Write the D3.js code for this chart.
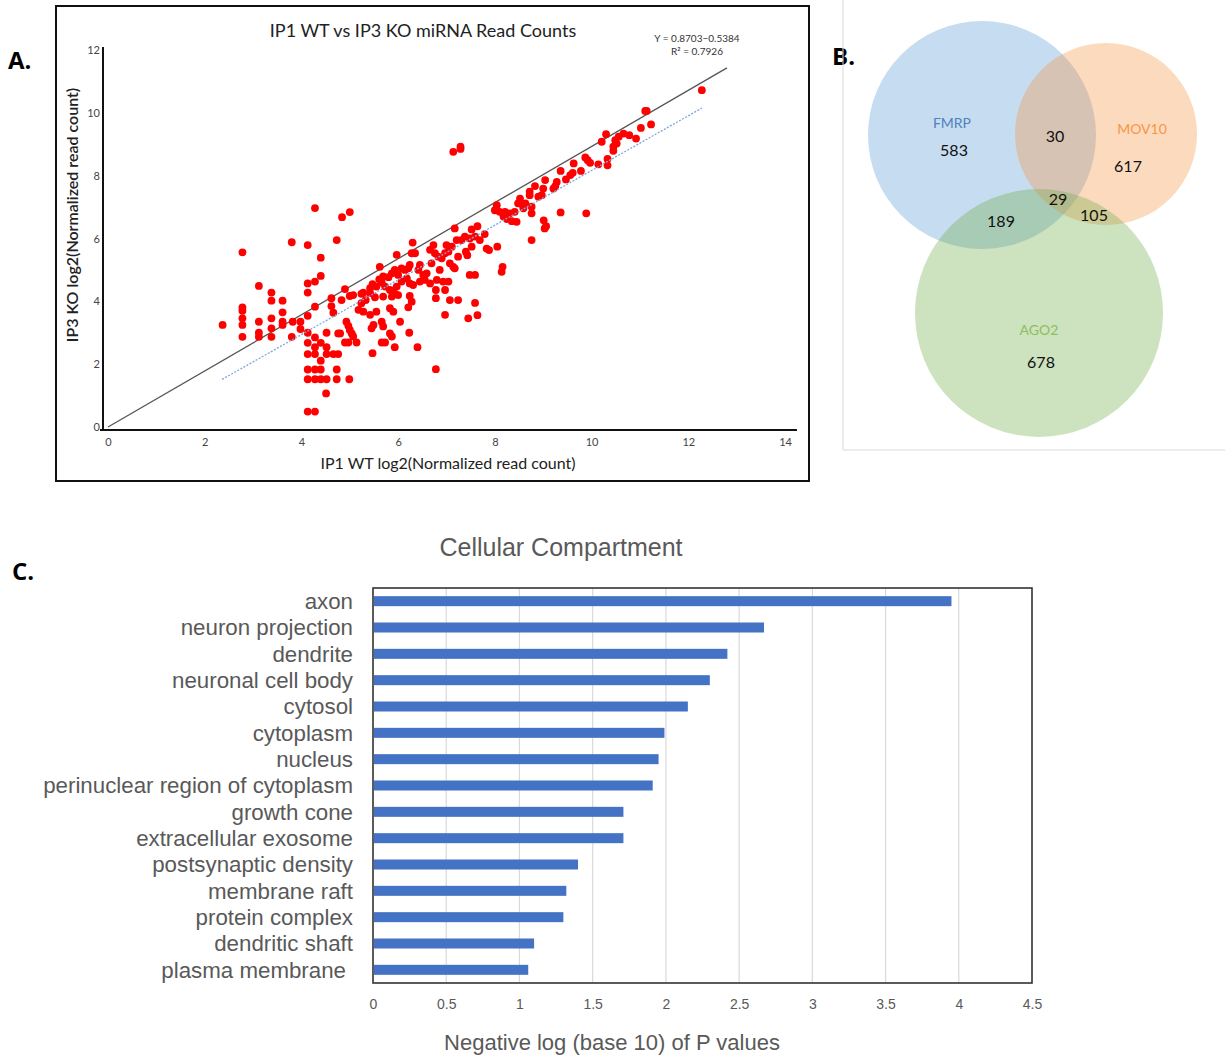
<!DOCTYPE html>
<html>
<head>
<meta charset="utf-8">
<script src="https://cdn.jsdelivr.net/npm/d3@7"></script>
<style>
  body { margin: 0; background: #fff; }
  text { font-family: "Lato", "Open Sans", sans-serif; }
</style>
</head>
<body>
<svg id="fig" width="1225" height="1057"></svg>
<script>
// ---- panel A: miRNA read counts (log2) ----
var ip1WT = [
  2.37,2.78,2.78,2.78,2.78,2.78,2.78,3.12,3.12,3.12,3.12,3.38,3.38,3.38,3.38,3.38,
  3.61,3.61,3.61,3.61,3.80,3.82,3.80,3.98,3.98,4.13,4.13,4.13,4.13,4.13,4.13,4.13,4.13,4.13,4.13,
  4.28,4.28,4.40,4.40,4.28,4.28,4.28,4.28,4.40,4.40,4.28,4.40,4.28,4.40,4.52,
  4.52,4.52,4.52,4.66,4.76,4.51,4.62,4.62,4.66,4.73,4.73,4.73,4.76,4.28,4.84,5.00,
  4.90,4.83,5.00,5.07,5.24,5.28,5.42,5.47,5.61,5.62,5.69,5.80,5.87,5.93,5.97,6.00,
  6.07,6.14,6.21,6.24,6.28,6.30,6.35,6.42,6.45,6.52,6.59,6.66,6.69,6.73,6.76,6.83,
  6.90,6.97,7.00,7.04,7.11,7.17,7.21,7.24,7.14,6.86,6.80,6.93,6.66,6.55,6.45,6.31,
  6.24,6.18,6.07,5.97,5.90,5.83,5.73,5.66,5.55,5.42,5.33,5.24,5.18,5.28,5.42,5.55,
  5.52,5.69,5.87,5.93,6.00,6.24,6.28,6.21,5.83,5.90,6.04,5.66,5.49,5.45,5.69,4.93,
  4.97,5.00,5.04,5.07,4.80,4.90,4.97,5.14,5.66,5.73,5.83,5.87,6.23,5.93,6.40,5.47,
  4.99,6.78,6.97,7.07,6.97,6.78,6.78,7.24,7.17,7.07,7.04,
  7.14,7.29,7.29,8.04,8.00,8.10,8.21,8.31,8.41,8.48,8.45,8.25,8.35,8.18,
  7.52,7.64,7.79,7.59,7.48,7.38,7.31,7.69,7.52,7.40,7.43,7.83,7.88,8.05,7.48,7.59,8.16,8.14,7.59,7.64,7.45,
  12.28,11.11,11.14,11.23,11.02,10.92,10.78,10.66,10.56,10.49,10.52,10.45,10.45,10.30,10.21,10.33,
  10.33,10.14,9.97,9.92,9.87,9.63,9.78,9.56,9.61,9.47,9.36,9.28,9.25,9.21,9.04,9.00,
  8.90,8.97,8.83,8.72,8.72,8.63,8.59,8.56,8.76,8.76,8.52,9.01,9.06,9.03,9.36,9.89,8.76
];
var ip3KO = [
  3.25,5.56,3.81,3.70,3.46,3.25,2.87,4.49,3.35,3.00,2.87,4.28,4.02,3.46,3.14,2.87,
  4.02,3.65,3.35,3.25,5.88,3.35,2.87,3.35,3.12,5.79,4.57,4.28,3.54,3.00,2.68,2.32,1.83,1.52,0.49,
  0.49,4.63,5.39,4.81,3.83,2.85,2.54,2.32,2.68,2.11,1.83,1.83,1.52,1.52,1.52,
  3.00,2.54,2.32,2.32,2.32,1.07,4.10,3.85,3.64,5.95,1.83,1.52,2.98,6.97,6.68,6.84,
  4.39,4.04,4.17,4.20,4.24,4.28,4.42,4.55,4.70,5.10,4.79,4.77,4.89,5.00,5.48,4.84,
  5.05,5.00,5.05,5.16,5.53,5.87,5.53,5.00,5.16,4.84,4.89,5.64,5.21,5.79,5.53,5.42,
  5.37,5.53,5.79,5.58,5.74,6.32,5.95,5.42,5.10,5.00,4.68,4.63,4.57,4.68,4.63,4.52,
  4.57,4.73,4.63,4.47,4.31,4.36,4.47,4.60,4.47,4.26,4.04,3.94,3.73,3.67,3.57,3.67,
  4.13,4.15,4.15,4.24,4.20,4.17,3.99,3.81,3.78,3.67,3.35,3.35,3.25,3.14,3.20,3.35,
  3.22,3.09,2.98,2.88,2.98,2.69,2.69,2.69,2.69,2.69,2.98,2.88,3.00,2.54,2.54,2.35,
  1.52,1.84,3.57,4.04,4.36,4.36,4.10,4.04,5.05,5.21,4.63,
  8.76,8.92,8.85,7.06,6.90,6.85,6.85,6.80,6.85,7.12,6.53,6.62,6.55,6.70,
  6.29,6.39,6.14,6.06,6.00,6.06,5.95,5.95,5.74,5.58,5.47,5.68,5.63,5.74,4.84,4.84,5.10,4.94,3.95,3.56,3.46,
  10.72,10.06,10.06,9.63,9.52,9.18,9.29,9.34,9.24,9.13,9.02,8.92,8.79,9.32,9.08,8.53,
  8.33,8.36,8.41,8.49,8.58,8.39,8.15,8.02,8.09,7.88,8.15,7.80,7.67,7.59,7.86,7.59,
  7.33,7.38,7.67,7.49,7.38,7.12,6.96,7.09,7.01,6.80,7.27,6.58,6.39,6.32,6.83,6.80,5.95
];
var xTicksA = [0, 2, 4, 6, 8, 10, 12, 14];
var yTicksA = [0, 2, 4, 6, 8, 10, 12];
var refLine = [[0, 0], [12.8, 11.43]];
var fitSlope = 0.8703, fitIntercept = -0.5384, fitR2 = 0.7926;
var fitRange = [2.36, 12.28];

// ---- panel B: venn counts ----
var vennSets = ["FMRP", "MOV10", "AGO2"];
var vennOnly = [583, 617, 678];
var vennPairs = { "FMRP&MOV10": 30, "FMRP&AGO2": 189, "MOV10&AGO2": 105 };
var vennAll = 29;

// ---- panel C: GO cellular compartment ----
var compartments = ["axon", "neuron projection", "dendrite", "neuronal cell body", "cytosol",
  "cytoplasm", "nucleus", "perinuclear region of cytoplasm", "growth cone", "extracellular exosome",
  "postsynaptic density", "membrane raft", "protein complex", "dendritic shaft", "plasma membrane"];
var negLogP = [3.95, 2.67, 2.42, 2.30, 2.15, 1.99, 1.95, 1.91, 1.71, 1.71, 1.40, 1.32, 1.30, 1.10, 1.06];
var xTicksC = [0, 0.5, 1, 1.5, 2, 2.5, 3, 3.5, 4, 4.5];

var svg = d3.select("#fig");
svg.append("rect").attr("width", 1225).attr("height", 1057).attr("fill", "#fff");

// panel letters
[["A.", 8, 69], ["B.", 832, 65], ["C.", 12, 580]].forEach(function (p) {
  svg.append("text").attr("x", p[1]).attr("y", p[2])
    .attr("font-size", "24px").attr("font-weight", "bold")
    .style("font-family", "'Open Sans', sans-serif")
    .text(p[0]);
});

// ================= A. scatter =================
var a = svg.append("g");
a.append("rect").attr("x", 56).attr("y", 6).attr("width", 753).attr("height", 475)
  .attr("fill", "none").attr("stroke", "#111").attr("stroke-width", 2);

var x = d3.scaleLinear().domain([0, 14]).range([108, 785]);
var y = d3.scaleLinear().domain([0, 12]).range([427, 50]);

a.append("text").attr("x", 423).attr("y", 37).attr("text-anchor", "middle")
  .attr("font-size", "18px").attr("fill", "#222")
  .text("IP1 WT vs IP3 KO miRNA Read Counts");

a.append("text").attr("x", 697).attr("y", 42).attr("text-anchor", "middle")
  .attr("font-size", "10px").attr("fill", "#333")
  .text("Y = " + fitSlope + "\u2212" + Math.abs(fitIntercept));
a.append("text").attr("x", 697).attr("y", 55).attr("text-anchor", "middle")
  .attr("font-size", "10px").attr("fill", "#333")
  .text("R\u00b2 = " + fitR2);

var xAxisA = a.append("g").attr("transform", "translate(0,430)")
  .call(d3.axisBottom(x).tickValues(xTicksA).tickSize(0).tickPadding(8));
xAxisA.select(".domain").remove();
xAxisA.selectAll("text").attr("font-size", "11px").attr("fill", "#444")
  .style("font-family", "Lato, sans-serif");

var yAxisA = a.append("g").attr("transform", "translate(103,0)")
  .call(d3.axisLeft(y).tickValues(yTicksA).tickSize(0).tickPadding(3));
yAxisA.select(".domain").remove();
yAxisA.selectAll("text").attr("font-size", "11px").attr("fill", "#444")
  .style("font-family", "Lato, sans-serif");

a.append("line").attr("x1", 100).attr("x2", 797).attr("y1", 430).attr("y2", 430)
  .attr("stroke", "#111").attr("stroke-width", 2);
a.append("line").attr("x1", 103).attr("x2", 103).attr("y1", 47).attr("y2", 431)
  .attr("stroke", "#111").attr("stroke-width", 2);

a.append("text").attr("x", 448).attr("y", 469).attr("text-anchor", "middle")
  .attr("font-size", "16px").attr("fill", "#222")
  .text("IP1 WT log2(Normalized read count)");
a.append("text").attr("transform", "translate(78,215) rotate(-90)")
  .attr("text-anchor", "middle").attr("font-size", "16px").attr("font-weight", 600)
  .attr("fill", "#222")
  .text("IP3 KO log2(Normalized read count)");

var line = d3.line().x(function (d) { return x(d[0]); }).y(function (d) { return y(d[1]); });

a.append("path").datum(refLine).attr("d", line)
  .attr("fill", "none").attr("stroke", "#555").attr("stroke-width", 1.3);

var fitPts = fitRange.map(function (v) { return [v, fitSlope * v + fitIntercept]; });

var pts = ip1WT.map(function (v, i) { return { wt: v, ko: ip3KO[i] }; });
a.append("g").selectAll("circle").data(pts).enter().append("circle")
  .attr("cx", function (d) { return x(d.wt); })
  .attr("cy", function (d) { return y(d.ko); })
  .attr("r", 3.9)
  .attr("fill", "#ff0000");

a.append("path").datum(fitPts).attr("d", line)
  .attr("fill", "none").attr("stroke", "#7fa6dc").attr("stroke-width", 1.3)
  .attr("stroke-dasharray", "2,1.5");

// ================= B. venn =================
var b = svg.append("g");
b.append("line").attr("x1", 843).attr("x2", 843).attr("y1", 0).attr("y2", 450)
  .attr("stroke", "#d9d9d9").attr("stroke-width", 1);
b.append("line").attr("x1", 843).attr("x2", 1225).attr("y1", 450).attr("y2", 450)
  .attr("stroke", "#d9d9d9").attr("stroke-width", 1);

var vennLayout = [
  { cx: 982, cy: 135, r: 114, fill: "#5b9bd5", txt: "#4f81bd", lx: 952, ly: 128, nx: 954, ny: 156 },
  { cx: 1106, cy: 134, r: 91, fill: "#f79646", txt: "#f79646", lx: 1142, ly: 134, nx: 1128, ny: 172 },
  { cx: 1039, cy: 313, r: 124, fill: "#70ad47", txt: "#8bbf5c", lx: 1039, ly: 335, nx: 1041, ny: 368 }
];
b.selectAll("circle").data(vennLayout).enter().append("circle")
  .attr("cx", function (d) { return d.cx; })
  .attr("cy", function (d) { return d.cy; })
  .attr("r", function (d) { return d.r; })
  .attr("fill", function (d) { return d.fill; })
  .attr("fill-opacity", 0.35);

vennLayout.forEach(function (d, i) {
  b.append("text").attr("x", d.lx).attr("y", d.ly).attr("text-anchor", "middle")
    .attr("font-size", "14px").attr("fill", d.txt).text(vennSets[i]);
  b.append("text").attr("x", d.nx).attr("y", d.ny).attr("text-anchor", "middle")
    .attr("font-size", "16px").attr("fill", "#111").text(vennOnly[i]);
});
[[vennPairs["FMRP&MOV10"], 1055, 142], [vennPairs["FMRP&AGO2"], 1001, 227],
 [vennPairs["MOV10&AGO2"], 1094, 221], [vennAll, 1058, 205]].forEach(function (d) {
  b.append("text").attr("x", d[1]).attr("y", d[2]).attr("text-anchor", "middle")
    .attr("font-size", "16px").attr("fill", "#111").text(d[0]);
});

// ================= C. bar chart =================
var c = svg.append("g").style("font-family", "'Liberation Sans', Arial, sans-serif");
var xb = d3.scaleLinear().domain([0, 4.5]).range([373, 1032]);
var yb = d3.scaleBand().domain(compartments).range([588, 983])
  .paddingInner(0.62).paddingOuter(0.31);

c.append("text").attr("x", 561).attr("y", 556).attr("text-anchor", "middle")
  .attr("font-size", "25px").attr("fill", "#595959")
  .style("font-family", "'Liberation Sans', Arial, sans-serif")
  .text("Cellular Compartment");

c.append("g").selectAll("line").data(xTicksC.slice(1, -1)).enter().append("line")
  .attr("x1", function (d) { return xb(d); }).attr("x2", function (d) { return xb(d); })
  .attr("y1", 588).attr("y2", 983)
  .attr("stroke", "#d9d9d9").attr("stroke-width", 1.2);

c.append("g").selectAll("rect").data(compartments).enter().append("rect")
  .attr("x", xb(0) + 1)
  .attr("y", function (d) { return yb(d); })
  .attr("width", function (d, i) { return xb(negLogP[i]) - xb(0) - 1; })
  .attr("height", yb.bandwidth())
  .attr("fill", "#4472c4");

c.append("rect").attr("x", 373).attr("y", 588).attr("width", 659).attr("height", 395)
  .attr("fill", "none").attr("stroke", "#333").attr("stroke-width", 1.6);

c.append("g").selectAll("text").data(compartments).enter().append("text")
  .attr("x", function (d) { return d === "plasma membrane" ? 346 : 353; })
  .attr("y", function (d) { return yb(d) + yb.bandwidth() / 2; })
  .attr("dy", "0.35em")
  .attr("text-anchor", "end")
  .attr("font-size", "22.3px").attr("fill", "#595959")
  .style("font-family", "'Liberation Sans', Arial, sans-serif")
  .text(function (d) { return d; });

var xAxisC = c.append("g").attr("transform", "translate(0,983)")
  .call(d3.axisBottom(xb).tickValues(xTicksC).tickSize(0).tickPadding(16)
    .tickFormat(function (d) { return String(d); }));
xAxisC.select(".domain").remove();
xAxisC.selectAll("text").attr("font-size", "14px").attr("fill", "#595959")
  .style("font-family", "'Liberation Sans', Arial, sans-serif");

c.append("text").attr("x", 612).attr("y", 1050).attr("text-anchor", "middle")
  .attr("font-size", "22px").attr("fill", "#595959")
  .style("font-family", "'Liberation Sans', Arial, sans-serif")
  .text("Negative log (base 10) of P values");
</script>
</body>
</html>
